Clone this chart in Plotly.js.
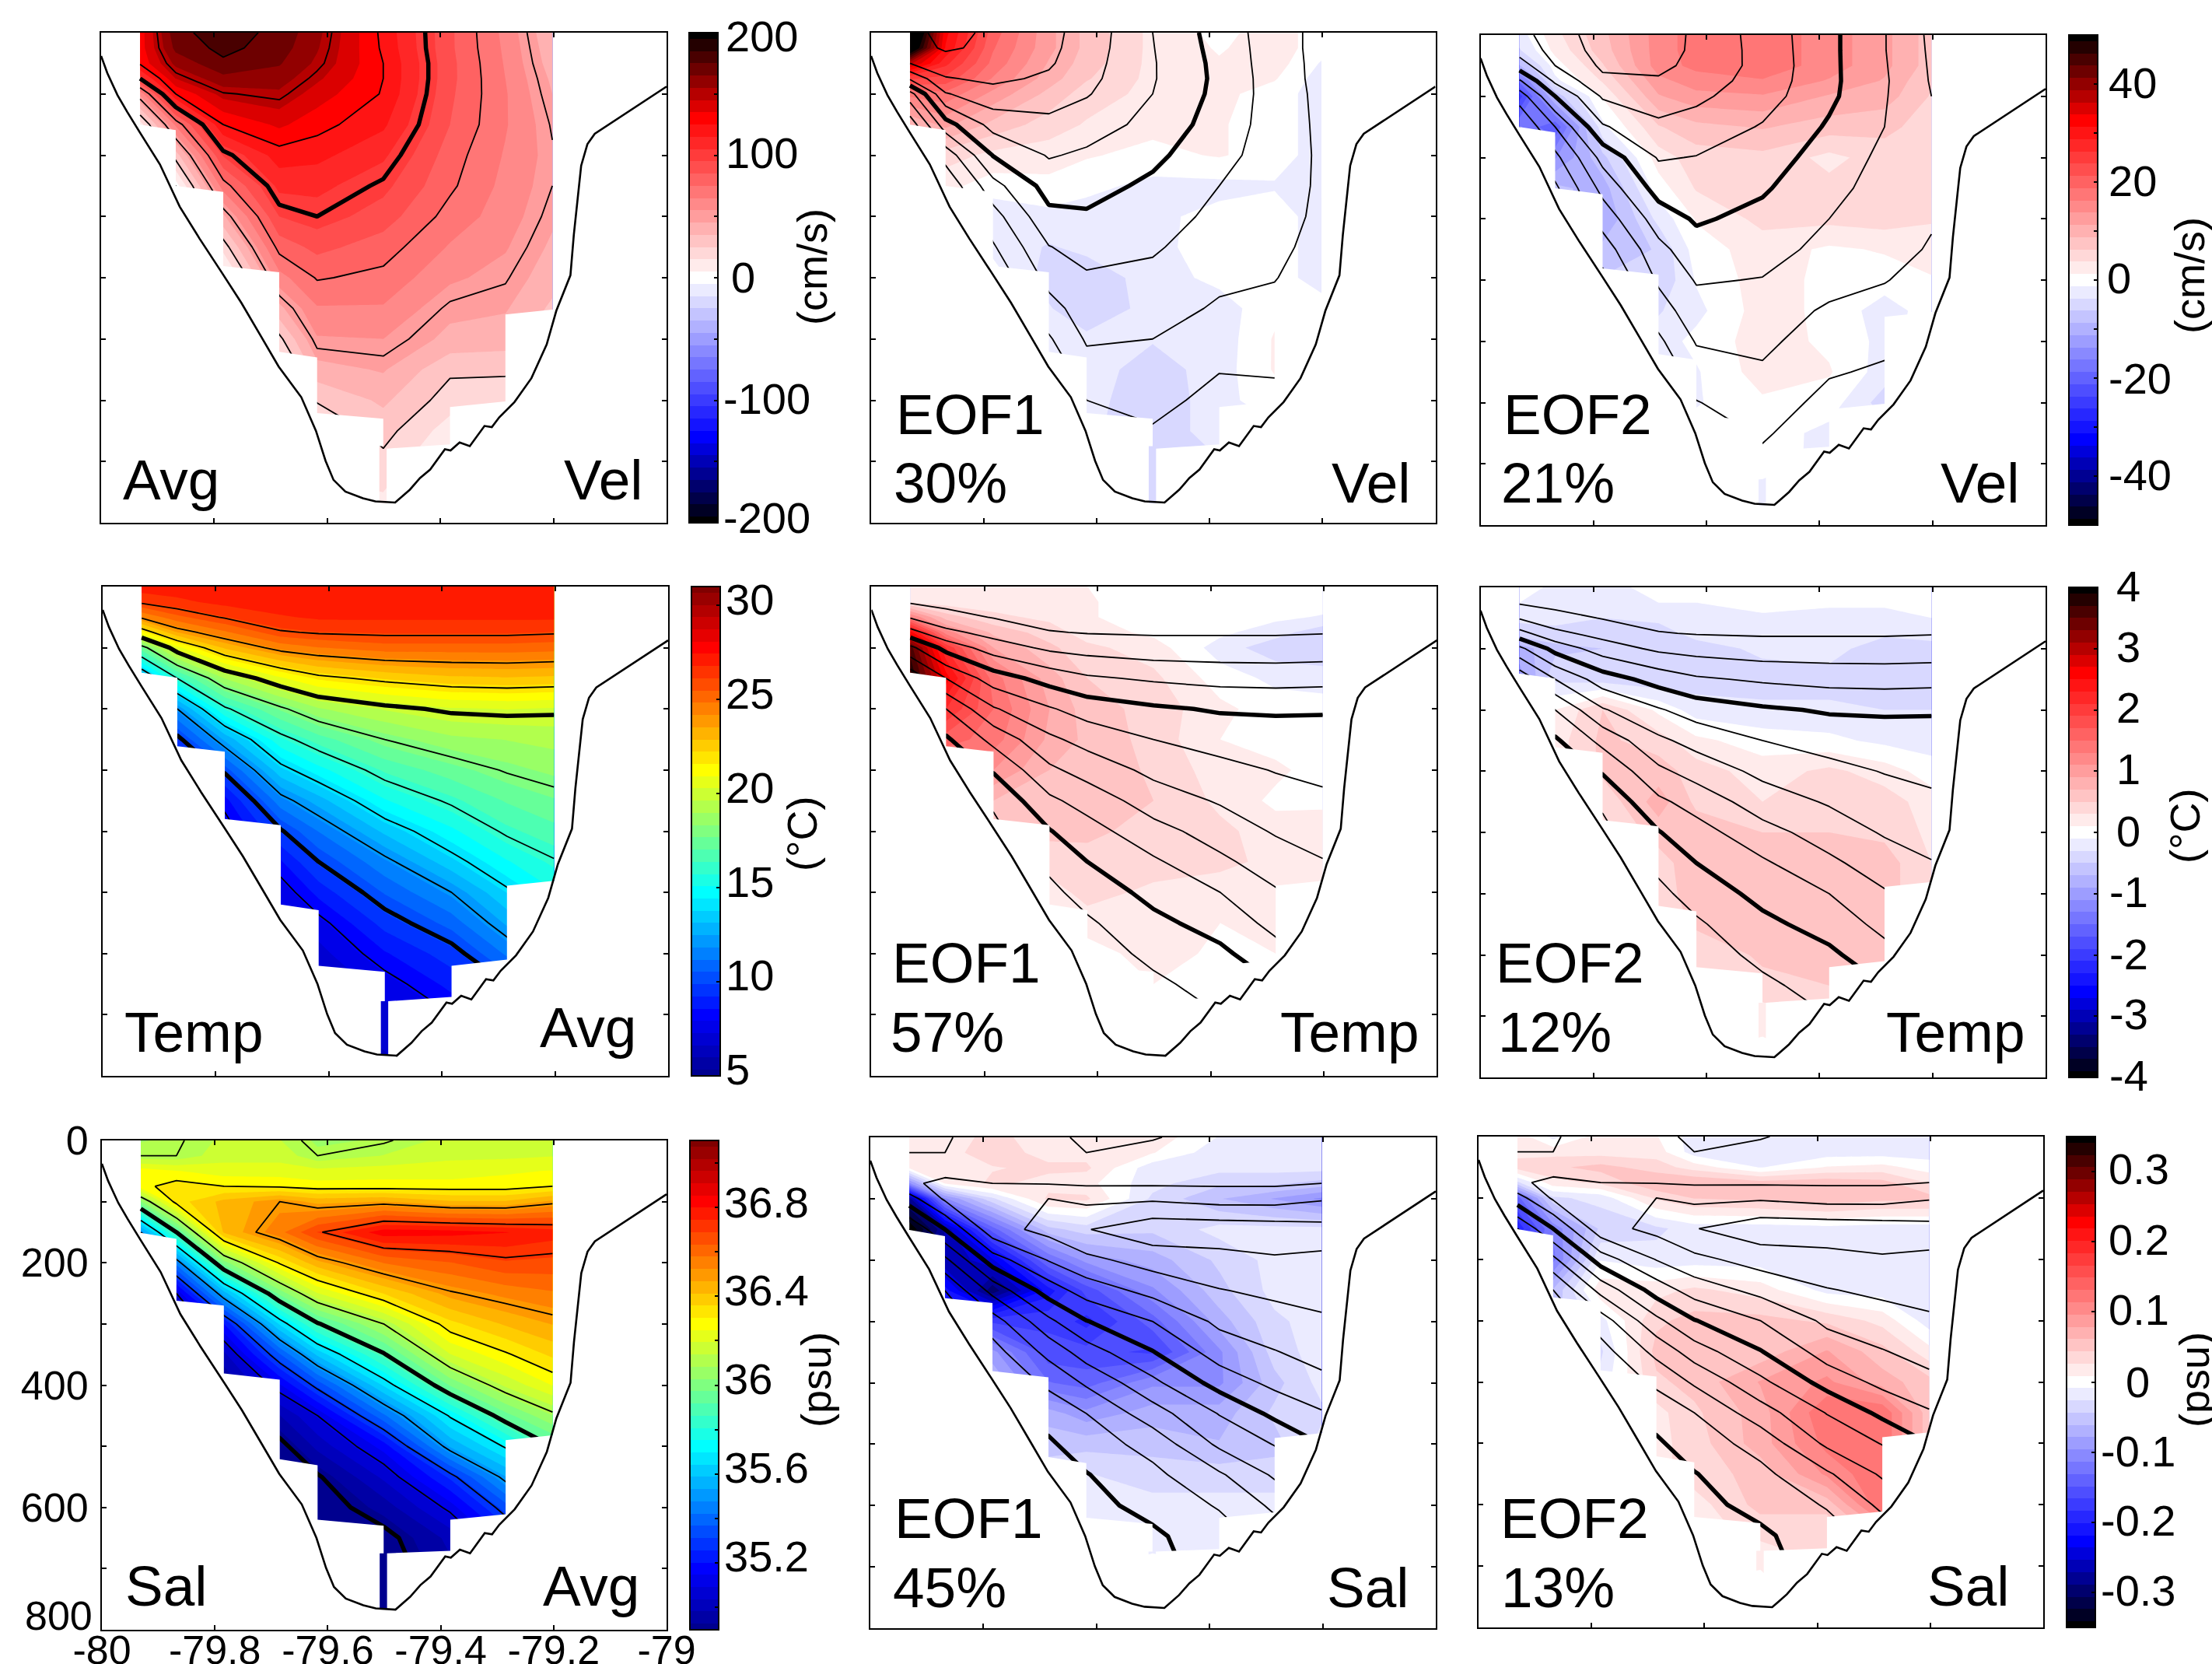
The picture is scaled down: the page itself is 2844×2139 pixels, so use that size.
<!DOCTYPE html>
<html><head><meta charset="utf-8">
<script src="https://cdn.plot.ly/plotly-3.0.1.min.js"></script>
<style>html,body{margin:0;padding:0;background:#fff;overflow:hidden}</style></head>
<body><div id="chart" style="width:2844px;height:2139px"></div>
<script>
const stations=[-79.931,-79.868,-79.784,-79.685,-79.618,-79.501,-79.383,-79.285,-79.202];
const depths=[0,25,50,75,100,150,200,250,300,350,400,450,500,550,600,650,700,750,800];

const bottomLon=[-80,-79.989,-79.971,-79.954,-79.932,-79.896,-79.861,-79.826,-79.787,-79.752,-79.717,-79.686,-79.646,-79.62,-79.603,-79.589,-79.568,-79.537,-79.515,-79.48,-79.454,-79.436,-79.418,-79.392,-79.382,-79.366,-79.348,-79.322,-79.309,-79.296,-79.269,-79.239,-79.212,-79.195,-79.17,-79.164,-79.151,-79.14,-79.127,-79];
const bottomDepth=[38,66,102,129,162,215,284,336,391,441,496,545,595,650,699,730,749,760,765,767,746,727,713,680,682,669,675,642,644,628,603,564,509,454,396,330,217,182,165,88];

const maskLon=[-79.94,-79.931,-79.868,-79.868,-79.784,-79.784,-79.685,-79.685,-79.618,-79.618,-79.501,-79.501,-79.508,-79.508,-79.495,-79.495,-79.383,-79.383,-79.285,-79.285,-79.202,-79.195,-79.195,-79.94];
const velMaskDepth=[150,150,159,250,260,381,391,521,530,621,630,675,675,768,768,679,672,611,602,460,452,452,810,810];
const tempMaskDepth=[141,141,149,261,270,380,390,520,529,620,630,678,678,766,766,678,671,620,610,489,481,481,810,810];
const salMaskDepth=[151,151,161,262,270,381,391,521,531,620,630,675,675,766,766,675,671,620,611,490,482,482,810,810];

// each inner list is one station, top to bottom
const velAvg=[
[130,130,127,100,58,10,5],
[172,168,158,145,125,67,30,0,-10],
[180,178,173,162,149,125,96,70,43,19,-3,-15],
[172,170,166,160,153,137,120,108,95,79,61,42,22,5],
[158,156,153,147,140,129,118,108,100,88,76,64,54,41,26,15],
[122,123,125,125,124,117,107,98,90,80,72,64,55,46,37,29,22,15,10],
[87,87,88,88,87,85,80,77,71,64,57,48,42,27,20,10,3],
[62,63,64,65,66,66,64,62,60,56,51,46,40,27,18,10],
[36,38,40,43,45,49,51,50,47,43,39,33,26,20]];
const velEof1Contours=[
[195,190,175,129,65,10,0],
[205,203,190,173,148,90,35,5,-10],
[197,195,188,180,166,134,101,66,40,22,5],
[182,181,178,171,161,144,127,110,94,74,58,41,22,5],
[165,163,160,157,152,136,121,109,97,84,72,62,53,40,25,10],
[125,126,127,127,125,118,106,95,86,78,69,60,50,40,32,23,15,10,5],
[89,91,93,94,93,88,82,75,69,62,55,47,37,26,18,10,3],
[62,62,62,63,64,65,65,63,60,56,51,44,37,28,17,8],
[42,42,43,43,44,45,46,46,45,42,38,32,26,18]];
const velEof2Contours=[
[142,135,113,72,36,0,-5],
[162,158,150,130,100,50,18,-5,-10],
[188,185,179,170,153,122,83,58,35,12,-8],
[188,186,181,172,162,145,127,110,87,68,54,38,20,5],
[170,170,168,162,155,140,124,112,103,90,77,65,52,38,24,10],
[140,141,142,140,136,123,113,103,93,84,74,64,55,47,37,28,19,12,8],
[106,106,106,106,105,97,88,82,75,68,60,46,38,27,18,10],
[76,76,77,78,77,75,70,66,62,58,51,42,30,22,12,8],
[45,46,47,48,50,53,55,55,52,48,42,36,29,22]];
const velEof1=[
[60,55,37,24,17,9,6],
[32,31,27,23,18,12,5,2,0],
[20,19,18,16,13,8,3,0,-3,-2,0],
[12,12,11,10,8,5,2.5,0.5,-2,-4,-5,-3.5,-2.5,-1],
[8,8,7.5,6.5,5,3.5,1.5,-0.5,-2.5,-3,-5.5,-6,-3,-2.5,-2.5,-3],
[3,3,3,3,3,2,0.5,-2,-1.8,-2,-2.5,-2.6,-3.5,-5,-6,-6,-6,-6,-6],
[0.5,1,1.5,1.5,2,1.5,1.5,-2,-0.5,0,-0.5,-2.5,-2.7,-2.5,-2,-2],
[2.5,2.5,2.5,1.5,0,0,0,-1.5,0,0,0,0.5,1.5,1.5,0],
[0,0,-1.5,-2.5,-2.5,-2.5,-2.5,-2.5,-2.5,-2.5,-2.5,0,0,0]];
const velEof2=[
[-2.5,-4,-9,-18,-25,-16,-12],
[3,2,0,-2,-8,-21,-14,-8,-6],
[8,7.5,6,4,1.5,-2,-7,-10,-11,-8,-6],
[15,15,15,13,11,6,2.5,0,-3,-6,-6,-4,-2.5,-2],
[17.5,17.5,17,15,13,8,5,4,1.5,0,-1,-2,-0.5,-1.5,-1.5,0],
[18,18,18,16,13.5,9,5.5,5,4.5,2.5,2.5,2.5,2.5,2.5,0.8,0,-0.5,-2,-2],
[15,15,15,13.5,11,7.5,3,4.5,4.5,0.8,0.5,0.5,0.7,1.5,0,-2],
[12,12,12,11,10,7,5,5,5,1.5,0,-2.5,-2,-2.5,-5],
[7.5,7.5,7.5,6.5,6,5,5,5,4,2.5,1,0,0]];
const tempAvg=[
[27.2,26.2,24.2,21.3,17.5,12.5,11],
[27.2,26.6,25.3,23.5,20.7,16,12,9.7,9],
[27.4,27,26.1,24.7,23,19,15.8,12.6,10.2,8.3,7.5],
[27.4,27.2,26.7,25.9,24.4,20.8,17.8,15.6,13.6,11.6,9.9,8.5,7.5,7],
[27.4,27.3,26.9,26.1,24.8,21.7,18.9,16.7,14.8,12.8,11.2,10,8.8,7.7,7,6.5,6.3,6,6],
[27.4,27.3,26.9,26.2,25.2,22.3,19.7,18,16.5,15,13.3,11.7,10.6,9.5,8.5,7.6,7,6.7,6.3],
[27.4,27.3,26.9,26.2,25.2,22.7,20.2,18.8,17.4,16.2,14.9,13.6,12,10.8,9.6,8.8,8],
[27.4,27.3,26.9,26.2,25.2,22.8,20.3,19,18.1,17.1,16.2,15,13.8,12.6,11.3,10],
[27.4,27.3,26.9,26.1,25.1,22.7,20.2,19.2,18.5,17.6,16.8,15.9,15,14,13]];
const tempEof1=[
[0.2,0.25,1.3,2.6,3.6,3.9,3],
[0.2,0.2,0.6,1.2,2.1,2.6,2.1,1.6,1.2],
[0.2,0.2,0.35,0.65,0.9,1.4,1.5,1.4,1.1,0.7,0.5],
[0.2,0.2,0.25,0.4,0.55,0.8,0.9,0.85,0.7,0.65,0.55,0.4,0.2,0.15],
[0.1,0.12,0.12,0.2,0.35,0.5,0.6,0.65,0.7,0.65,0.55,0.42,0.38,0.2,0],
[0,0,0,0.05,0.2,0.35,0.42,0.42,0.45,0.5,0.42,0.4,0.25,0.2,0.2,0.1,0,0,0],
[0,0,0,-0.05,-0.2,0,0.15,0.1,0.2,0.25,0.35,0.35,0.2,0.1,0.05,0.05],
[0,0,-0.05,-0.22,-0.42,-0.15,0,0,0.15,0.05,0.2,0.25,0.2,0.2,0.1],
[0,0,-0.12,-0.42,-0.45,-0.2,0,0,0,0.05,0.22,0.22,0.2]];
const tempEof2=[
[0,-0.1,-0.25,-0.4,-0.8,-1,-0.8],
[-0.15,-0.15,-0.2,-0.4,-0.55,-0.35,0.1,0.2,0.2],
[-0.2,-0.2,-0.3,-0.4,-0.5,-0.4,0.5,0.55,0.55,0.35,0.25],
[0,-0.1,-0.25,-0.4,-0.4,-0.45,0.05,0.4,0.6,0.8,0.6,0.4,0.4,0.3],
[0,-0.1,-0.2,-0.22,-0.4,-0.4,-0.2,0.15,0.4,0.45,0.62,0.65,0.6,0.55,0.3,0.3],
[0,0,-0.15,-0.2,-0.25,-0.4,-0.25,0,0.2,0.3,0.5,0.6,0.6,0.6,0.55,0.42,0.2,0.05,0],
[0,-0.05,-0.2,-0.2,-0.2,-0.4,-0.25,-0.05,0.35,0.4,0.5,0.6,0.6,0.6,0.55,0.5],
[0,-0.05,-0.2,-0.25,-0.45,-0.45,-0.3,-0.15,0.2,0.4,0.45,0.6,0.6,0.6,0.6],
[0,0,-0.1,-0.2,-0.4,-0.4,-0.3,-0.2,0,0.2,0.25,0.3,0.3]];
const salAvg=[
[36.08,36.1,36.28,36.28,36.02,35.5,35.3],
[36.09,36.1,36.25,36.33,36.33,35.9,35.45,35.1,34.98,34.9],
[36.15,36.17,36.22,36.3,36.43,36.42,36,35.56,35.2,35.02,34.92,34.88],
[36.14,36.17,36.22,36.29,36.5,36.56,36.31,35.99,35.65,35.36,35.14,34.98,34.87,34.85],
[36.07,36.1,36.21,36.27,36.45,36.69,36.45,36.19,35.89,35.6,35.33,35.1,35,34.89,34.85,34.85],
[36.09,36.14,36.22,36.27,36.47,36.83,36.58,36.36,36.1,35.89,35.65,35.41,35.17,35.05,34.95,34.87,34.85,34.85,34.85],
[36.16,36.18,36.22,36.27,36.42,36.82,36.63,36.49,36.34,36.19,35.98,35.71,35.54,35.27,35.12,35],
[36.17,36.18,36.24,36.27,36.42,36.8,36.68,36.54,36.42,36.29,36.15,35.95,35.71,35.53,35.34,35.2],
[36.18,36.19,36.25,36.3,36.48,36.77,36.67,36.57,36.47,36.37,36.25,36.08,35.9,35.8]];
const salEof1=[
[0.02,0.02,0.01,-0.1,-0.28,-0.36,-0.3],
[0.02,0.02,0.02,0.01,-0.1,-0.27,-0.27,-0.21,-0.18],
[0.03,0.035,0.025,0.03,-0.03,-0.14,-0.24,-0.3,-0.17,-0.09,-0.06],
[0.02,0.02,0.03,0.02,0.03,-0.05,-0.13,-0.21,-0.17,-0.16,-0.13,-0.07,-0.05,-0.035],
[0.02,0.02,0.03,0.015,0.03,-0.035,-0.09,-0.16,-0.19,-0.16,-0.14,-0.09,-0.05,-0.025,-0.02,-0.02],
[0.02,0.01,-0.02,-0.02,-0.03,-0.04,-0.07,-0.1,-0.14,-0.17,-0.1,-0.07,-0.05,-0.035,-0.02,-0.02,0,0,0],
[-0.01,-0.02,-0.02,-0.04,-0.06,-0.02,-0.04,-0.05,-0.07,-0.1,-0.1,-0.07,-0.06,-0.035,-0.02,-0.02],
[-0.018,-0.018,-0.02,-0.04,-0.08,-0.02,-0.02,-0.02,-0.03,-0.035,-0.05,-0.04,-0.05,-0.035,-0.02],
[-0.018,-0.018,-0.02,-0.05,-0.1,-0.02,-0.018,-0.018,-0.018,-0.018,-0.02,-0.03,-0.02]];
const salEof2=[
[0.02,0.02,0.035,-0.03,-0.14,-0.2,-0.15],
[-0.015,0.02,0.04,0.02,-0.03,-0.11,-0.12,-0.06,-0.05],
[0.018,0.018,0.05,0.03,-0.02,-0.04,-0.01,0.02,-0.015,-0.03,-0.02],
[0.01,0.018,0.035,0.06,0.03,-0.03,-0.02,0.02,0.04,0.05,0.04,0.02,0.02,0.02],
[-0.018,-0.018,0.018,0.06,0.045,-0.018,-0.018,0.03,0.05,0.05,0.05,0.04,0.035,0.035,0.018,0.02],
[-0.018,-0.018,-0.01,0.05,0.05,-0.018,-0.018,0.018,0.05,0.05,0.08,0.07,0.07,0.05,0.05,0.03,0.01,0,0],
[-0.018,-0.018,0.01,0.055,0.06,-0.015,-0.018,-0.015,0.04,0.08,0.1,0.13,0.12,0.1,0.05,0.03],
[-0.018,-0.018,0.015,0.05,0.05,-0.018,-0.018,-0.018,0.02,0.05,0.07,0.13,0.13,0.13,0.13],
[-0.018,-0.018,0,0.025,0.05,-0.018,-0.018,-0.018,-0.018,0.015,0.05,0.05,0.05]];

const lonTicks=[-80,-79.8,-79.6,-79.4,-79.2,-79];
const lonLabels=['-80','-79.8','-79.6','-79.4','-79.2','-79'];
const depthTicks=[0,100,200,300,400,500,600,700,800];
const depthLabels=['0','','200','','400','','600','',''];

const W=2844,H=2139,FONT='"Liberation Sans",Arial,sans-serif';
const jet=[[0,'#00008f'],[.125,'#0000ff'],[.375,'#00ffff'],[.625,'#ffff00'],[.875,'#ff0000'],[1,'#800000']];
const bwr=[[0,'#000000'],[.175,'#0000ff'],[.5,'#ffffff'],[.825,'#ff0000'],[1,'#000000']];
const velLines={z:velAvg,thin:[0,200,25],bold:[100,100,1000],mask:velMaskDepth};
const velE1Lines=Object.assign({},velLines,{z:velEof1Contours});
const velE2Lines=Object.assign({},velLines,{z:velEof2Contours});
const tempLines={z:tempAvg,thin:[6,26,2],bold:[10,20,10],mask:tempMaskDepth};
const salLines={z:salAvg,thin:[34.9,36.7,0.2],bold:[34.9,35.9,1],mask:salMaskDepth};
const s=(lo,hi,n)=>({lo,hi,size:(hi-lo)/n});
const cbVel=[-200,-150,-100,-50,0,50,100,150,200];
const cbVelE=[-50,-40,-30,-20,-10,0,10,20,30,40,50];
const cbT=[5,10,15,20,25,30];
const cbTE=[-4,-3,-2,-1,0,1,2,3,4];
const cbS=[35,35.2,35.4,35.6,35.8,36,36.2,36.4,36.6,36.8,37];
const cbSE=[-.3,-.2,-.1,0,.1,.2,.3];
const cbLabels=[
 ['200',932,47],['100',932,196],['0',939,357],['-100',929,513],['-200',929,666],
 ['40',2710,107],['20',2710,232],['0',2708,358],['-20',2710,486],['-40',2710,610],
 ['30',932,770],['25',932,891],['20',932,1012],['15',932,1133],['10',932,1253],['5',932,1374],
 ['4',2720,753],['3',2720,831],['2',2720,910],['1',2720,988],['0',2720,1068],['-1',2711,1146],['-2',2711,1226],['-3',2711,1304],['-4',2711,1382],
 ['36.8',930,1545],['36.4',930,1658],['36',930,1772],['35.6',930,1886],['35.2',930,2000],
 ['0.3',2710,1502],['0.2',2710,1593],['0.1',2710,1683],['0',2732,1776],['-0.1',2700,1865],['-0.2',2700,1954],['-0.3',2700,2044]];
const panels=[
 {z:velAvg,l:velLines,box:[130,857,42,672],cs:bwr,r:s(-200,200,40),cb:cbVel,cbx:886},
 {z:velEof1,l:velE1Lines,box:[1120,1845.5,42,672],cs:bwr,r:s(-50,50,40)},
 {z:velEof2,l:velE2Lines,box:[1903.6,2630,45,675],cs:bwr,r:s(-50,50,40),cb:cbVelE,cbx:2660},
 {z:tempAvg,l:tempLines,box:[132,859,754,1383],cs:jet,r:s(5,31,40),cb:cbT,cbx:889},
 {z:tempEof1,l:tempLines,box:[1120.4,1847.4,754,1383],cs:bwr,r:s(-4,4,40)},
 {z:tempEof2,l:tempLines,box:[1903.6,2630,755,1385],cs:bwr,r:s(-4,4,40),cb:cbTE,cbx:2660},
 {z:salAvg,l:salLines,box:[131,857,1466,2095],cs:jet,r:s(34.9,37.1,40),cb:cbS,cbx:887,labels:true},
 {z:salEof1,l:salLines,box:[1119,1846,1462,2093],cs:bwr,r:s(-.35,.35,40)},
 {z:salEof2,l:salLines,box:[1901,2627,1461,2092],cs:bwr,r:s(-.35,.35,40),cb:cbSE,cbx:2657}];

const traces=[];const layout={width:W,height:H,margin:{l:0,r:0,t:0,b:0,autoexpand:false},paper_bgcolor:'#fff',plot_bgcolor:'rgba(0,0,0,0)',showlegend:false,hovermode:false,font:{family:FONT,size:52,color:'#000'},annotations:[]};
panels.forEach((p,i)=>{
 const n=i?String(i+1):'',xk='xaxis'+n,yk='yaxis'+n,xa='x'+n,ya='y'+n,[x0,x1,y0,y1]=p.box;
 layout[xk]={domain:[x0/W,x1/W],range:[-80,-79],autorange:false,anchor:ya,showgrid:false,zeroline:false,showline:true,linecolor:'#000',linewidth:2,mirror:'ticks',ticks:'inside',ticklen:6,tickwidth:2,tickcolor:'#000',tickmode:'array',tickvals:lonTicks,ticktext:lonLabels,showticklabels:!!p.labels,tickfont:{size:52,family:FONT},tickangle:0,ticklabelstandoff:-20};
 layout[yk]={domain:[1-y1/H,1-y0/H],range:[800,0],autorange:false,anchor:xa,showgrid:false,zeroline:false,showline:true,linecolor:'#000',linewidth:2,mirror:'ticks',ticks:'inside',ticklen:6,tickwidth:2,tickcolor:'#000',tickmode:'array',tickvals:depthTicks,ticktext:depthLabels,showticklabels:!!p.labels,tickfont:{size:52,family:FONT},ticklabelstandoff:5};
 const base={type:'contour',x:stations,y:depths,transpose:true,connectgaps:true,autocontour:false,hoverinfo:'skip',xaxis:xa,yaxis:ya};
 const fill=Object.assign({},base,{z:p.z,colorscale:p.cs,contours:{coloring:'fill',showlines:false,start:p.r.lo+p.r.size/2,end:p.r.hi-p.r.size/2,size:p.r.size},line:{width:0,smoothing:0},showscale:!!p.cb});
 if(p.cb)fill.colorbar={x:p.cbx/W,xanchor:'left',xpad:0,y:1-y1/H,yanchor:'bottom',ypad:0,len:y1-y0,lenmode:'pixels',thickness:37,thicknessmode:'pixels',outlinewidth:2,outlinecolor:'#000',ticks:'inside',ticklen:6,tickwidth:2,tickcolor:'#000',tickmode:'array',tickvals:p.cb,ticktext:p.cb.map(()=>''),tickfont:{size:10,family:FONT}};
 traces.push(fill);
 traces.push(Object.assign({},base,{z:p.l.z,showscale:false,contours:{coloring:'none',start:p.l.thin[0],end:p.l.thin[1],size:p.l.thin[2]},line:{color:'#000',width:1.8,smoothing:0}}));
 traces.push(Object.assign({},base,{z:p.l.z,showscale:false,contours:{coloring:'none',start:p.l.bold[0],end:p.l.bold[1],size:p.l.bold[2]},line:{color:'#000',width:5.5,smoothing:0}}));
 traces.push({type:'scatter',mode:'lines',x:maskLon,y:p.l.mask,fill:'toself',fillcolor:'#fff',line:{width:0,color:'#fff'},hoverinfo:'skip',xaxis:xa,yaxis:ya});
 traces.push({type:'scatter',mode:'lines',x:bottomLon,y:bottomDepth,line:{color:'#000',width:2.6},hoverinfo:'skip',xaxis:xa,yaxis:ya});
});
function label(text,x,base,anchor,size=73){layout.annotations.push({text,xref:'paper',yref:'paper',x:x/W,y:1-(base+size*.24)/H,xanchor:anchor,yanchor:'bottom',showarrow:false,borderpad:0,font:{size,family:FONT,color:'#000'}});}
function vlabel(text,x,y){layout.annotations.push({text,xref:'paper',yref:'paper',x:x/W,y:1-y/H,xanchor:'center',yanchor:'middle',textangle:-90,showarrow:false,font:{size:54,family:FONT,color:'#000'}});}
label('Avg',157,640,'left');label('Vel',827,640,'right');
label('EOF1',1151,556,'left');label('30%',1148,644,'left');label('Vel',1814,644,'right');
label('EOF2',1932,556,'left');label('21%',1929,644,'left');label('Vel',2597,644,'right');
label('Temp',159,1350,'left');label('Avg',819,1344,'right');
label('EOF1',1146,1261,'left');label('57%',1144,1350,'left');label('Temp',1826,1350,'right');
label('EOF2',1922,1261,'left');label('12%',1925,1350,'left');label('Temp',2605,1350,'right');
label('Sal',160,2062,'left');label('Avg',823,2062,'right');
label('EOF1',1149,1975,'left');label('45%',1147,2064,'left');label('Sal',1813,2064,'right');
label('EOF2',1928,1975,'left');label('13%',1929,2064,'left');label('Sal',2585,2062,'right');
vlabel('(cm/s)',1044,343);vlabel('(cm/s)',2815,354);vlabel('(°C)',1031,1072);vlabel('(°C)',2809,1062);vlabel('(psu)',1049,1774);vlabel('(psu)',2821,1774);
layout.annotations.push({text:'800',xref:'paper',yref:'paper',x:121/W,y:1-2077/H,xanchor:'right',yanchor:'middle',showarrow:false,font:{size:52,family:FONT,color:'#000'}});
cbLabels.forEach(([text,x,y])=>layout.annotations.push({text,xref:'paper',yref:'paper',x:x/W,y:1-y/H,xanchor:'left',yanchor:'middle',showarrow:false,borderpad:0,font:{size:56,family:FONT,color:'#000'}}));
Plotly.newPlot('chart',traces,layout,{displayModeBar:false,responsive:false});
</script></body></html>
